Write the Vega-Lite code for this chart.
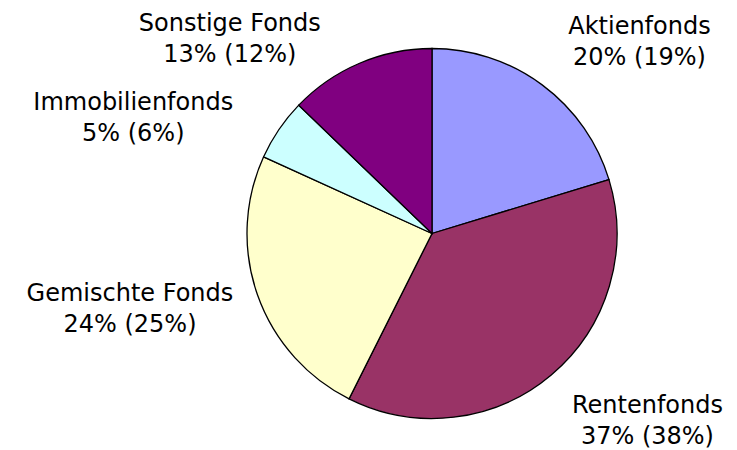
{
  "$schema": "https://vega.github.io/schema/vega-lite/v6.json",
  "width": 610,
  "height": 433,
  "autosize": "none",
  "padding": {"left": 127, "top": 17, "right": 0, "bottom": 0},
  "background": "white",
  "view": {"stroke": null},
  "data": {
    "values": [
      {"name": "Aktienfonds", "label": "20% (19%)", "value": 20.3, "rank": 1},
      {"name": "Rentenfonds", "label": "37% (38%)", "value": 37.1, "rank": 2},
      {"name": "Gemischte Fonds", "label": "24% (25%)", "value": 24.4, "rank": 3},
      {"name": "Immobilienfonds", "label": "5% (6%)", "value": 5.4, "rank": 4},
      {"name": "Sonstige Fonds", "label": "13% (12%)", "value": 12.8, "rank": 5}
    ]
  },
  "transform": [
    {"stack": "value", "groupby": [], "sort": [{"field": "rank", "order": "ascending"}], "as": ["s0", "s1"]},
    {"calculate": "(datum.s0 + datum.s1) / 2", "as": "mid"},
    {"calculate": "datum.name + '\\n' + datum.label", "as": "txt"}
  ],
  "layer": [
    {
      "mark": {"type": "arc", "outerRadius": 185, "stroke": "black", "strokeWidth": 1.3},
      "encoding": {
        "theta": {"field": "s0", "type": "quantitative", "scale": {"domain": [0, 100]}},
        "theta2": {"field": "s1"},
        "color": {
          "field": "name",
          "type": "nominal",
          "scale": {
            "domain": ["Aktienfonds", "Rentenfonds", "Gemischte Fonds", "Immobilienfonds", "Sonstige Fonds"],
            "range": ["#9999FF", "#993366", "#FFFFCC", "#CCFFFF", "#800080"]
          },
          "legend": null
        }
      }
    },
    {
      "transform": [{"filter": "datum.name == 'Aktienfonds'"}],
      "mark": {"type": "text", "radius": 293, "thetaOffset": 0.149, "align": "center", "baseline": "middle", "lineBreak": "\n", "font": "DejaVu Sans", "fontSize": 24, "lineHeight": 31, "fill": "black"},
      "encoding": {"theta": {"field": "mid", "type": "quantitative"}, "text": {"field": "txt"}}
    },
    {
      "transform": [{"filter": "datum.name == 'Rentenfonds'"}],
      "mark": {"type": "text", "radius": 276, "thetaOffset": -0.195, "align": "center", "baseline": "middle", "lineBreak": "\n", "font": "DejaVu Sans", "fontSize": 24, "lineHeight": 31, "fill": "black"},
      "encoding": {"theta": {"field": "mid", "type": "quantitative"}, "text": {"field": "txt"}}
    },
    {
      "transform": [{"filter": "datum.name == 'Gemischte Fonds'"}],
      "mark": {"type": "text", "radius": 308, "thetaOffset": 0.142, "align": "center", "baseline": "middle", "lineBreak": "\n", "font": "DejaVu Sans", "fontSize": 24, "lineHeight": 31, "fill": "black"},
      "encoding": {"theta": {"field": "mid", "type": "quantitative"}, "text": {"field": "txt"}}
    },
    {
      "transform": [{"filter": "datum.name == 'Immobilienfonds'"}],
      "mark": {"type": "text", "radius": 326, "thetaOffset": -0.185, "align": "center", "baseline": "middle", "lineBreak": "\n", "font": "DejaVu Sans", "fontSize": 24, "lineHeight": 31, "fill": "black"},
      "encoding": {"theta": {"field": "mid", "type": "quantitative"}, "text": {"field": "txt"}}
    },
    {
      "transform": [{"filter": "datum.name == 'Sonstige Fonds'"}],
      "mark": {"type": "text", "radius": 291, "thetaOffset": -0.366, "align": "center", "baseline": "middle", "lineBreak": "\n", "font": "DejaVu Sans", "fontSize": 24, "lineHeight": 31, "fill": "black"},
      "encoding": {"theta": {"field": "mid", "type": "quantitative"}, "text": {"field": "txt"}}
    }
  ]
}
